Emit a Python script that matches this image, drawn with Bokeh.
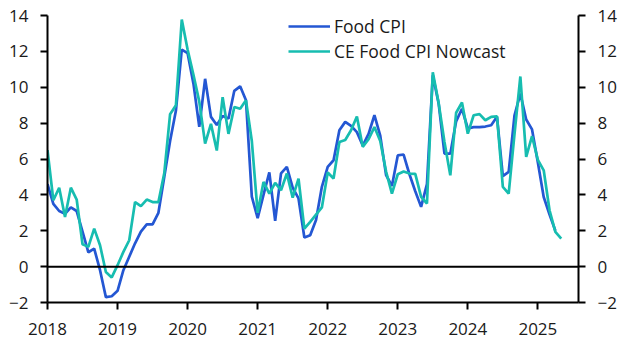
import pandas as pd
from bokeh.plotting import figure
from bokeh.models import (Range1d, LinearAxis, FixedTicker, Span, Legend, LegendItem,
                          ColumnDataSource)
from bokeh.embed import file_html
from bokeh.resources import INLINE

# ---- data ----
food_cpi = [
    4.6, 3.5, 3.1, 2.95, 3.3, 3.1, 1.95, 0.8, 1.0, -0.2, -1.7, -1.65,        # 2018
    -1.35, -0.2, 0.55, 1.3, 1.95, 2.35, 2.35, 3.0, 5.0, 7.0, 8.7, 12.1,      # 2019
    11.9, 10.2, 7.8, 10.47, 8.35, 7.9, 8.4, 8.25, 9.8, 10.05, 9.27, 3.9,     # 2020
    2.7, 4.0, 5.25, 2.55, 5.2, 5.56, 4.4, 3.8, 1.62, 1.75, 2.6, 4.45,        # 2021
    5.56, 5.93, 7.6, 8.07, 7.85, 7.5, 6.75, 7.4, 8.44, 7.3, 5.1, 4.5,        # 2022
    6.2, 6.25, 5.15, 4.2, 3.33, 4.6, 10.67, 9.1, 6.3, 6.3, 8.1, 8.8,         # 2023
    7.7, 7.78, 7.78, 7.81, 7.88, 8.35, 5.05, 5.28, 8.44, 9.65, 8.2, 7.65,    # 2024
    5.8, 3.88, 2.9, 2.0,                                                     # 2025
]
nowcast = [
    6.5, 3.7, 4.4, 2.77, 4.4, 3.74, 1.25, 1.1, 2.12, 1.19, -0.3, -0.6,       # 2018
    0.08, 0.82, 1.47, 3.6, 3.37, 3.74, 3.6, 3.6, 5.2, 8.5, 9.0, 13.77,       # 2019
    12.1, 10.7, 9.2, 6.86, 7.96, 6.47, 9.45, 7.4, 8.9, 8.8, 9.27, 7.0,       # 2020
    3.0, 4.72, 4.07, 4.67, 4.26, 5.19, 3.85, 4.91, 2.12, 2.5, 2.9, 3.3,      # 2021
    5.25, 4.91, 6.95, 7.06, 7.6, 8.37, 6.68, 7.1, 7.78, 7.0, 5.3, 4.07,      # 2022
    5.15, 5.3, 5.19, 5.17, 3.89, 3.52, 10.83, 9.13, 6.95, 5.09, 8.58, 9.15,  # 2023
    7.41, 8.44, 8.5, 8.16, 8.35, 8.38, 4.44, 4.07, 7.4, 10.6, 6.12, 7.27,    # 2024
    5.95, 5.37, 3.14, 1.94, 1.56,                                            # 2025
]
year_ticks = [2018, 2019, 2020, 2021, 2022, 2023, 2024, 2025]
value_ticks = [-2, 0, 2, 4, 6, 8, 10, 12, 14]

def decimal_years(n):
    d = pd.date_range("2018-01-01", periods=n, freq="MS")
    return list(d.year + (d.month - 1) / 12.0)

src_food = ColumnDataSource(dict(x=decimal_years(len(food_cpi)), y=food_cpi))
src_now = ColumnDataSource(dict(x=decimal_years(len(nowcast)), y=nowcast))

BLUE = "#2457d3"
TEAL = "#17bdb0"
FONT = "Open Sans"
TXT = "#1a1a1a"

# frame spans the full height above the axis; the y axis lines are bounded to -2..14
y_top = 14 + 15 / (287 / 16)

p = figure(width=631, height=354, output_backend="svg", toolbar_location=None,
           x_range=Range1d(2018, 2025.58), y_range=Range1d(-2, y_top),
           min_border_left=47, min_border_right=53, min_border_top=0,
           min_border_bottom=52, y_axis_location=None, x_axis_location=None)
p.outline_line_color = None
p.xgrid.visible = False
p.ygrid.visible = False
p.background_fill_color = "white"
p.border_fill_color = "white"

def style_axis(ax):
    ax.axis_line_color = "black"
    ax.axis_line_width = 2
    ax.major_tick_line_color = "black"
    ax.major_tick_line_width = 2
    ax.major_tick_out = 7
    ax.major_tick_in = 0
    ax.minor_tick_line_color = None
    ax.major_label_text_font = FONT
    ax.major_label_text_font_size = "17px"
    ax.major_label_text_color = TXT

xa = LinearAxis(ticker=FixedTicker(ticks=year_ticks))
style_axis(xa)
xa.major_label_standoff = 13
p.add_layout(xa, "below")

for side in ("left", "right"):
    ya = LinearAxis(ticker=FixedTicker(ticks=value_ticks), bounds=(-2, 14))
    style_axis(ya)
    ya.major_label_standoff = 12
    p.add_layout(ya, side)

p.add_layout(Span(location=0, dimension="width", line_color="black", line_width=2))

r_food = p.line("x", "y", source=src_food, line_color=BLUE, line_width=2.7)
r_now = p.line("x", "y", source=src_now, line_color=TEAL, line_width=2.7)

legend = Legend(items=[LegendItem(label="Food CPI", renderers=[r_food]),
                       LegendItem(label="CE Food CPI Nowcast", renderers=[r_now])],
                location=(241, 239), orientation="vertical")
legend.label_text_font = FONT
legend.label_text_font_size = "17.5px"
legend.label_text_color = TXT
legend.glyph_width = 42
legend.glyph_height = 20
legend.label_height = 20
legend.label_standoff = 4
legend.spacing = 1
legend.padding = 0
legend.margin = 0
legend.border_line_color = None
legend.background_fill_alpha = 0
p.add_layout(legend, "center")

open("out.html", "w").write(file_html(p, INLINE))
